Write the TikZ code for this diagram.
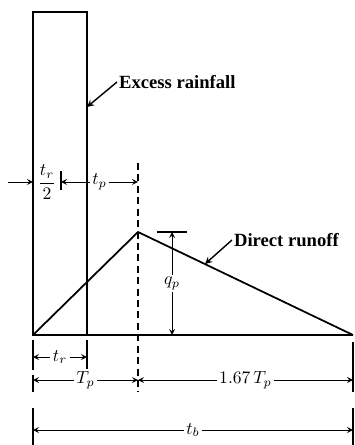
\documentclass[tikz,border=0pt]{standalone}
\usepackage{amsmath}
\usepackage{fontspec}
\setmainfont{Liberation Serif}
\usepackage{tikz}
\usetikzlibrary{arrows}
\usetikzlibrary{positioning}
\tikzstyle{outline} = [line width=1pt]
\tikzstyle{arrow} = [line width=0.8pt,->,>=stealth]
\tikzstyle{dim} = [line width=0.5pt,<->,>=stealth]
\tikzstyle{ext} = [line width=0.6pt]
\tikzstyle{desc} = [font=\fontsize{10.6}{12}\selectfont\bfseries, inner sep=1pt]
\tikzstyle{dimtext} = [fill=white, inner sep=1.5pt]

\begin{document}
\begin{tikzpicture}[x=0.02cm, y=-0.02cm, >=stealth]
            \useasboundingbox (0,0) rectangle (354,445);
            % hydrograph corners
            \coordinate (origin) at (33,335);
            \coordinate (raintop) at (87,12);
            \coordinate (rainedge) at (87,107);
            \coordinate (peak) at (138,232);
            \coordinate (base) at (353,335);
            \draw [outline] (origin) rectangle (raintop);
            \draw [outline] (origin) -- (base);
            \draw [outline] (origin) -- (peak) -- (base);
            \coordinate (peakup) at (138,163);
            \coordinate (peakdown) at (138,392);
            \draw [ext, dash pattern=on 4pt off 2.5pt] (peakup) -- (peakdown);
            % labels
            \node [desc, anchor=west] (rain) at (117,82) 
            {Excess rainfall};
            \draw [arrow] (rain.west) -- (rainedge);
            \coordinate (runoffpt) at (205,264);
            \node [desc, anchor=west] (runoff) at (232,240) 
            {Direct runoff};
            \draw [arrow] (runoff.west) -- (runoffpt);
            % t_r/2 and t_p
            \coordinate (inleft) at (8,182);
            \coordinate (leftedge) at (33,182);
            \coordinate (centre) at (61,182);
            \coordinate (lag) at (138,182);
            \draw [dim, -stealth] (inleft) -- (leftedge);
            \node (half) at (47,182) 
            {$\dfrac{t_r}{2}$};
            \draw [line width=0.8pt] (61,171) -- (61,190);
            \draw [dim] (centre) -- node [dimtext] 
            {$t_p$} (lag);
            % q_p
            \coordinate (qtop) at (172,232);
            \coordinate (qbot) at (172,335);
            \draw [ext] (157,232) -- (187,232);
            \draw [dim] (qtop) -- node [dimtext] 
            {$q_p$} (qbot);
            % extension ticks
            \foreach \x/\ya/\yb in {33/340/370, 87/340/370, 33/375/392, 
                                    353/342/392, 33/408/445, 353/408/445}
                \draw [ext] (\x,\ya) -- (\x,\yb);
            % dimensions below
            \coordinate (tra) at (33,357);
            \coordinate (trb) at (87,357);
            \draw [dim] (tra) -- node [dimtext] 
            {$t_r$} (trb);
            \coordinate (Tpa) at (33,380);
            \coordinate (Tpb) at (138,380);
            \coordinate (Tpc) at (353,380);
            \draw [dim] (Tpa) -- node [dimtext] 
            {$T_p$} (Tpb);
            \draw [dim] (Tpb) -- node [dimtext] 
            {$1.67\,T_p$} (Tpc);
            \coordinate (tba) at (33,430);
            \coordinate (tbb) at (353,430);
            \draw [dim] (tba) -- node [dimtext] 
            {$t_b$} (tbb);
        \end{tikzpicture}
\end{document}
